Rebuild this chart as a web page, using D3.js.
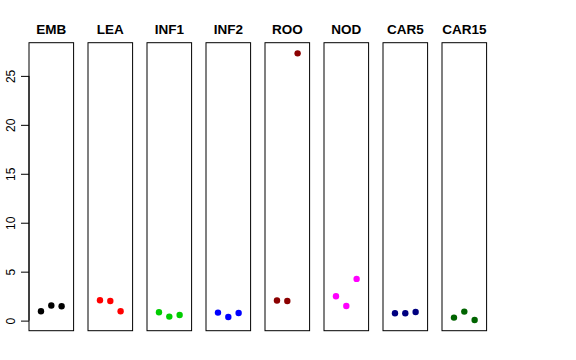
<!DOCTYPE html>
<html>
<head>
<meta charset="utf-8">
<script src="https://cdn.jsdelivr.net/npm/d3@7"></script>
<style>
body { margin: 0; background: #fff; }
</style>
</head>
<body>
<script>
// Width and height
var w = 576;
var h = 360;

var groups = ["EMB", "LEA", "INF1", "INF2", "ROO", "NOD", "CAR5", "CAR15"];
var colors = ["#000000", "#ff0000", "#00cd00", "#0000ff", "#8b0000", "#ff00ff", "#000080", "#006400"];
var rep1 = [0.95, 2.08, 0.85, 0.82, 2.05, 2.49, 0.75, 0.31];
var rep2 = [1.54, 2.01, 0.41, 0.37, 2.01, 1.50, 0.75, 0.92];
var rep3 = [1.47, 0.95, 0.57, 0.78, 27.3, 4.26, 0.88, 0.06];
var yTicks = [0, 5, 10, 15, 20, 25];

var panelLeft = 29, panelW = 44.6, panelStep = 59;
var plotTop = 42.7, plotBottom = 330.7;

var svg = d3.select("body")
            .append("svg")
            .attr("width", w)
            .attr("height", h);

var y = d3.scaleLinear().domain([-1.03, 28.39]).range([plotBottom, plotTop]);

// y axis on first panel
var yAxis = d3.axisLeft(y).tickValues(yTicks).tickSize(8).tickPadding(3);
var ga = svg.append("g")
   .attr("transform", "translate(" + panelLeft + ",0)")
   .call(yAxis);
ga.select(".domain").attr("d", "M0," + y(0) + "V" + y(25)).attr("stroke", "#000");
ga.selectAll(".tick line").attr("stroke", "#000");
ga.selectAll(".tick text")
   .attr("font-family", "Liberation Sans, Arial, sans-serif")
   .attr("font-size", "12px")
   .attr("fill", "#000")
   .attr("text-anchor", "middle")
   .attr("x", 0)
   .attr("dy", "0.35em")
   .attr("transform", "translate(-18,0) rotate(-90)");

groups.forEach(function(g, i) {
    var x0 = panelLeft + i * panelStep;
    var x = d3.scaleLinear().domain([-0.16, 4.16]).range([x0, x0 + panelW]);
    var vals = [rep1[i], rep2[i], rep3[i]];

    svg.append("rect")
       .attr("x", x0)
       .attr("y", plotTop)
       .attr("width", panelW)
       .attr("height", plotBottom - plotTop)
       .attr("fill", "none")
       .attr("stroke", "#000")
       .attr("stroke-width", 1);

    svg.selectAll("circle.p" + i)
       .data(vals)
       .enter()
       .append("circle")
       .attr("class", "p" + i)
       .attr("cx", function(d, j) { return x(j + 1); })
       .attr("cy", function(d) { return y(d); })
       .attr("r", 3.2)
       .attr("fill", colors[i]);

    svg.append("text")
       .text(g)
       .attr("x", x0 + panelW / 2)
       .attr("y", 34.3)
       .attr("font-family", "Liberation Sans, Arial, sans-serif")
       .attr("font-size", "13.5px")
       .attr("font-weight", "bold")
       .attr("fill", "#000")
       .attr("text-anchor", "middle");
});
</script>
</body>
</html>
